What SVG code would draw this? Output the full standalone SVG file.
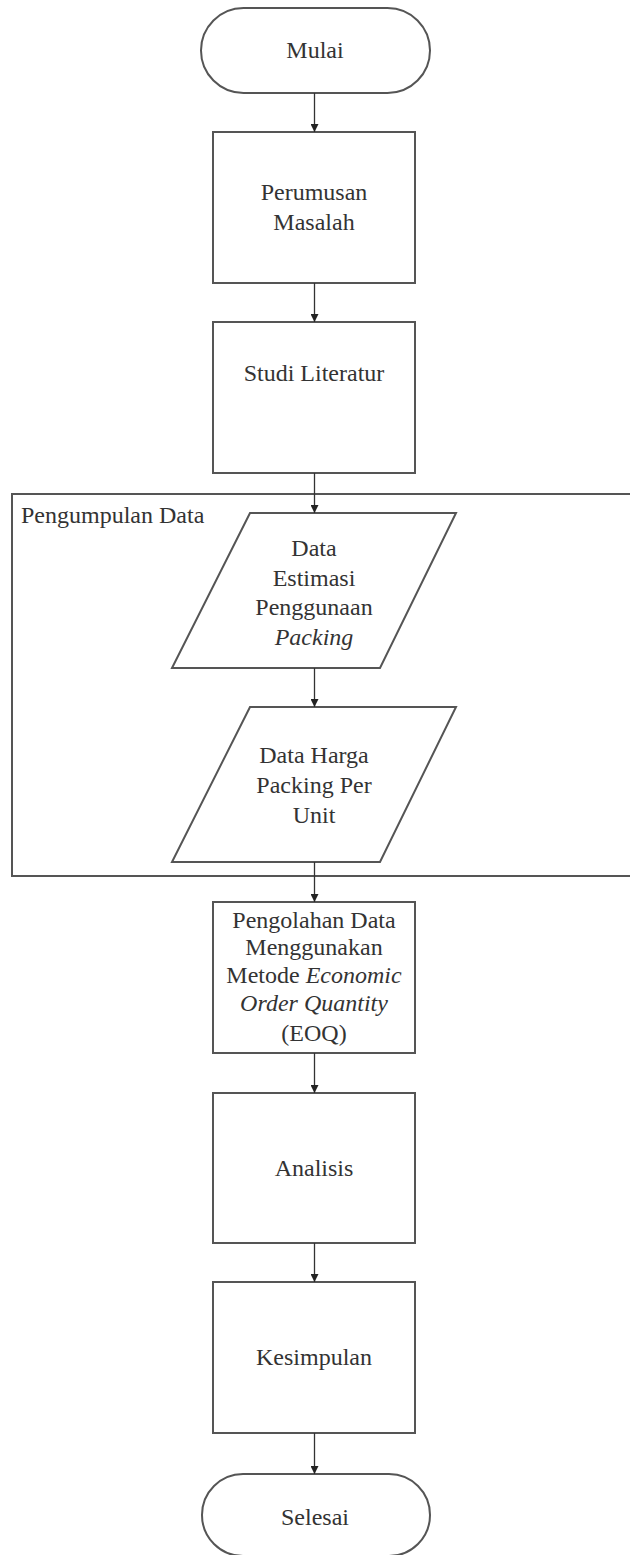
<svg xmlns="http://www.w3.org/2000/svg" width="630" height="1555" viewBox="0 0 630 1555">
<defs>
<style>
.shape{fill:#fff;stroke:#555;stroke-width:2}
.cont{fill:none;stroke:#555;stroke-width:2}
.t{font-family:"Liberation Serif","Times New Roman",serif;font-size:24px;fill:#333;text-anchor:middle}
.tl{font-family:"Liberation Serif","Times New Roman",serif;font-size:24px;fill:#333}
.i{font-style:italic}
.conn{stroke:#333;stroke-width:1.3;fill:none;marker-end:url(#ah)}
</style>
<marker id="ah" viewBox="0 0 10 10" refX="10" refY="5" markerWidth="8" markerHeight="8" markerUnits="userSpaceOnUse" orient="auto">
<path d="M0,0 L10,5 L0,10 z" fill="#222"/>
</marker>
</defs>
<rect width="630" height="1555" fill="#fff"/>
<g id="container">
<path class="cont" d="M640,494 H12 V876 H640"/>
<text class="tl" x="21" y="523">Pengumpulan Data</text>
</g>
<g id="mulai">
<rect class="shape" x="201" y="8" width="229" height="85" rx="42.5" ry="42.5"/>
<text class="t" x="315" y="58">Mulai</text>
</g>
<g id="perumusan">
<rect class="shape" x="213" y="132" width="202" height="151"/>
<text class="t" x="314" y="200">Perumusan</text>
<text class="t" x="314" y="230">Masalah</text>
</g>
<g id="studi">
<rect class="shape" x="213" y="322" width="202" height="151"/>
<text class="t" x="314" y="381">Studi Literatur</text>
</g>
<g id="data1">
<polygon class="shape" points="250,513 456,513 380,668 172,668"/>
<text class="t" x="314" y="556">Data</text>
<text class="t" x="314" y="586">Estimasi</text>
<text class="t" x="314" y="615">Penggunaan</text>
<text class="t i" x="314" y="645">Packing</text>
</g>
<g id="data2">
<polygon class="shape" points="250,707 456,707 380,862 172,862"/>
<text class="t" x="314" y="763">Data Harga</text>
<text class="t" x="314" y="793">Packing Per</text>
<text class="t" x="314" y="823">Unit</text>
</g>
<g id="pengolahan">
<rect class="shape" x="213" y="902" width="202" height="151"/>
<text class="t" x="314" y="928">Pengolahan Data</text>
<text class="t" x="314" y="955">Menggunakan</text>
<text class="t" x="314" y="983">Metode <tspan class="i">Economic</tspan></text>
<text class="t i" x="314" y="1011">Order Quantity</text>
<text class="t" x="314" y="1041">(EOQ)</text>
</g>
<g id="analisis">
<rect class="shape" x="213" y="1093" width="202" height="150"/>
<text class="t" x="314" y="1176">Analisis</text>
</g>
<g id="kesimpulan">
<rect class="shape" x="213" y="1282" width="202" height="151"/>
<text class="t" x="314" y="1365">Kesimpulan</text>
</g>
<g id="selesai">
<rect class="shape" x="202" y="1474" width="228" height="82" rx="41" ry="41"/>
<text class="t" x="315" y="1525">Selesai</text>
</g>
<g id="connectors">
<line class="conn" x1="314.5" y1="93" x2="314.5" y2="132"/>
<line class="conn" x1="314.5" y1="283" x2="314.5" y2="322"/>
<line class="conn" x1="314.5" y1="473" x2="314.5" y2="513"/>
<line class="conn" x1="314.5" y1="668" x2="314.5" y2="707"/>
<line class="conn" x1="314.5" y1="862" x2="314.5" y2="902"/>
<line class="conn" x1="314.5" y1="1053" x2="314.5" y2="1093"/>
<line class="conn" x1="314.5" y1="1243" x2="314.5" y2="1282"/>
<line class="conn" x1="314.5" y1="1433" x2="314.5" y2="1474"/>
</g>
</svg>
